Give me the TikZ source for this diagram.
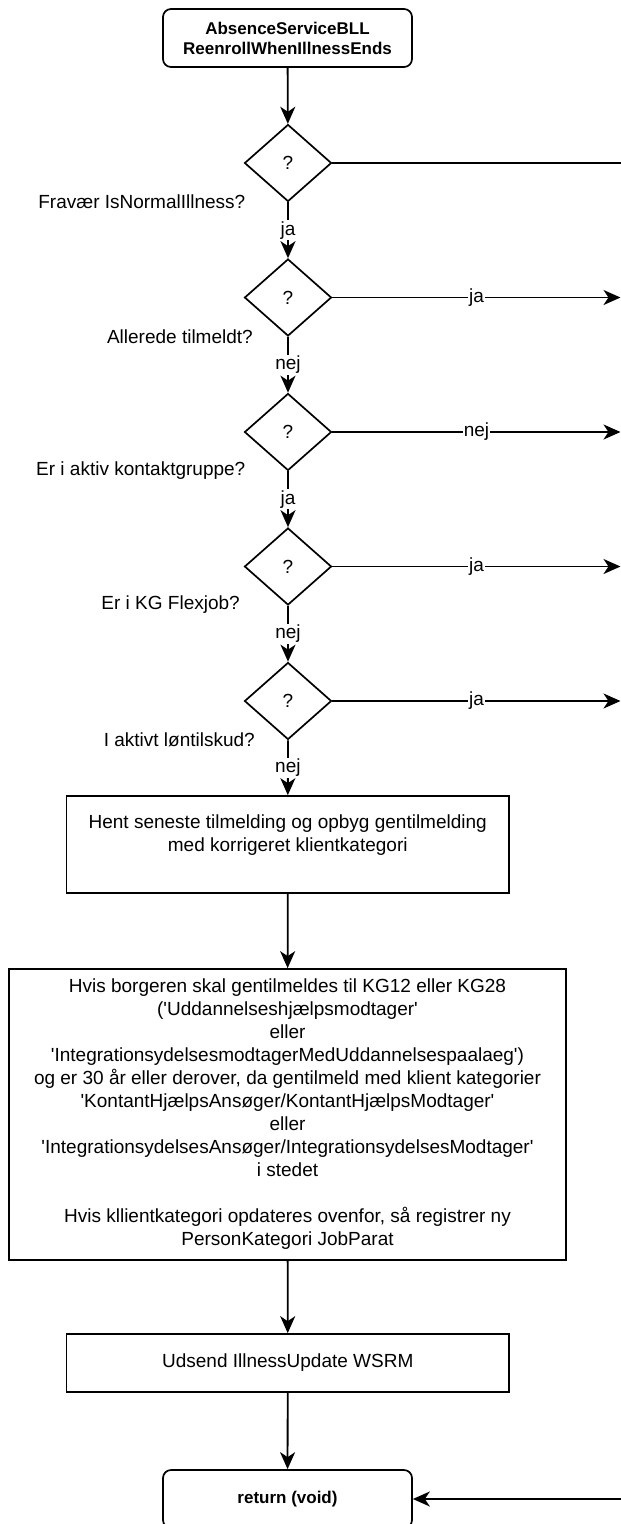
\documentclass[tikz,border=0pt]{standalone}
\usepackage{fontspec}
\setmainfont{Liberation Sans}
\usetikzlibrary{shapes.geometric,arrows.meta}
\tikzset{myarrowtip/.tip={Stealth[length=17pt,width=15pt,inset=5pt]}}
\begin{document}
\begin{tikzpicture}[x=1pt,y=-1pt,
  every node/.style={font=\fontsize{19}{23}\selectfont, inner sep=0pt},
  arr/.style={line width=1.8pt,-myarrowtip},
  term/.style={draw, line width=1.7pt, rounded corners=8pt, minimum width=249pt, minimum height=58pt, font=\fontsize{17}{20}\selectfont\bfseries, align=center},
  proc/.style={draw, line width=1.7pt, align=center},
  dec/.style={draw, diamond, line width=1.7pt, minimum width=87pt, minimum height=77pt},
  qlab/.style={anchor=east},
  elab/.style={fill=white, inner sep=1pt}
]
\useasboundingbox (0,0) rectangle (621,1524);
\clip (0,0) rectangle (621,1524);

\node[term] (top) at (287.5,38) {AbsenceServiceBLL\\ReenrollWhenIllnessEnds};

\node[dec] (d1) at (288,163) {?};
\node[dec] (d2) at (288,297.5) {?};
\node[dec] (d3) at (288,432) {?};
\node[dec] (d4) at (288,566.5) {?};
\node[dec] (d5) at (288,701) {?};

\node[qlab] (q1) at (245.5,202) {Fravær IsNormalIllness?};
\node[qlab] (q2) at (253,337) {Allerede tilmeldt?};
\node[qlab] (q3) at (245.5,471) {Er i aktiv kontaktgruppe?};
\node[qlab] (q4) at (240,605) {Er i KG Flexjob?};
\node[qlab] (q5) at (255,740) {I aktivt løntilskud?};

\node[proc, minimum width=442.5pt, minimum height=97pt] (b1) at (287.75,844.5)
  {Hent seneste tilmelding og opbyg gentilmelding\\med korrigeret klientkategori\\\mbox{}};

\node[proc, minimum width=557pt, minimum height=291pt] (b2) at (287.5,1114.5)
  {Hvis borgeren skal gentilmeldes til KG12 eller KG28\\
   (\textquotesingle Uddannelseshjælpsmodtager\textquotesingle\\
   eller\\
   \textquotesingle IntegrationsydelsesmodtagerMedUddannelsespaalaeg\textquotesingle)\\
   og er 30 år eller derover, da gentilmeld med klient kategorier\\
   \textquotesingle KontantHjælpsAnsøger/KontantHjælpsModtager\textquotesingle\\
   eller\\
   \textquotesingle IntegrationsydelsesAnsøger/IntegrationsydelsesModtager\textquotesingle\\
   i stedet\\[23pt]
   Hvis kllientkategori opdateres ovenfor, så registrer ny\\
   PersonKategori JobParat};

\node[proc, minimum width=442.5pt, minimum height=58pt] (b3) at (287.75,1363) {Udsend IllnessUpdate WSRM};

\node[term] (ret) at (287.5,1499) {return (void)};

\coordinate (offR) at (650,163);
\coordinate (e2) at (620.5,297.5);
\coordinate (e3) at (620.5,432);
\coordinate (e4) at (620.5,566.5);
\coordinate (e5) at (620.5,701);

\draw[arr] (top) -- (d1);
\draw[arr] (d1) -- node[elab] {ja} (d2);
\draw[arr] (d2) -- node[elab] {nej} (d3);
\draw[arr] (d3) -- node[elab] {ja} (d4);
\draw[arr] (d4) -- node[elab] {nej} (d5);
\draw[arr] (d5) -- node[elab] {nej} (b1);
\draw[arr] (b1) -- (b2);
\draw[arr] (b2) -- (b3);
\draw[arr] (b3) -- (ret);

\draw[arr] (d2.east) -- node[elab] {ja} (e2);
\draw[arr] (d3.east) -- node[elab] {nej} (e3);
\draw[arr] (d4.east) -- node[elab] {ja} (e4);
\draw[arr] (d5.east) -- node[elab] {ja} (e5);

\draw[arr] (d1.east) -- (offR) |- (ret.east);
\end{tikzpicture}
\end{document}
